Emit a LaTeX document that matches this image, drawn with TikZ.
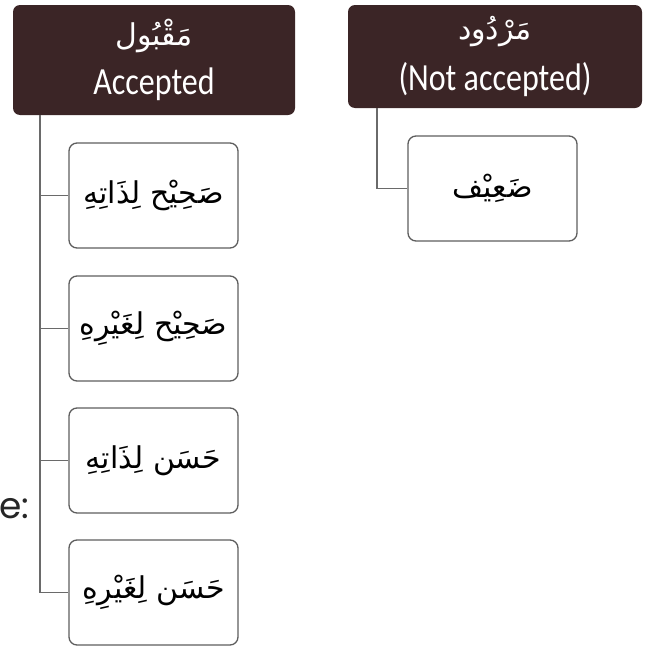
\documentclass[tikz,border=0pt]{standalone}
\usepackage{graphicx}
\usepackage{fontspec}
\setmainfont{Carlito}
\newfontfamily\arabicfont[Script=Arabic]{DejaVu Sans}
\newfontfamily\geofont{Poppins}
\TeXXeTstate=1
\definecolor{hdr}{HTML}{3B2526}
\definecolor{boxline}{HTML}{5E5E5E}
\definecolor{connline}{HTML}{6A6A6A}
\newcommand{\hdrtext}[2]{{\arabicfont\fontsize{30}{32}\selectfont\beginR #1\endR}\\[14pt]{\fontsize{32}{34}\selectfont\scalebox{1}[1.2]{#2}}}
\tikzset{
  hdrbox/.style={draw=none, fill=hdr, rounded corners=7pt, text=white, align=center, inner sep=0pt},
  kindbox/.style={draw=boxline, line width=1.3pt, fill=white, rounded corners=8pt, minimum width=169pt, minimum height=105pt, inner sep=0pt, font=\arabicfont\fontsize{30}{34}\selectfont},
  conn/.style={draw=connline, line width=1.4pt},
}
\begin{document}
\begin{tikzpicture}[x=1pt,y=-1pt]
\useasboundingbox (0,0) rectangle (646,648);
\node[hdrbox, minimum width=282pt, minimum height=110pt] (acc) at (154,60)
  {\hdrtext{مَقْبُول}{Accepted}};
\node[hdrbox, minimum width=294pt, minimum height=103pt] (rej) at (495,56.5)
  {\hdrtext{مَرْدُود}{(Not accepted)}};
\node[kindbox] (daif) at (492.5,188.5) {\beginR ضَعِيْف\endR};
\node[kindbox] (a) at (153.5,195.5) {\beginR صَحِيْح لِذَاتِهِ\endR};
\node[kindbox] (b) at (153.5,328.5) {\beginR صَحِيْح لِغَيْرِهِ\endR};
\node[kindbox] (c) at (153.5,460.5) {\beginR حَسَن لِذَاتِهِ\endR};
\node[kindbox] (d) at (153.5,592.5) {\beginR حَسَن لِغَيْرِهِ\endR};
\node[anchor=base west, inner sep=0pt, text=black!85, font=\geofont\fontsize{36}{40}\selectfont] (e) at (-1,518) {e:};
\coordinate (t1) at (40,0);
\coordinate (t2) at (377,0);
\draw[conn] (acc.south -| t1) |- (d.west);
\draw[conn] (a.west) -- (a.west -| t1);
\draw[conn] (b.west) -- (b.west -| t1);
\draw[conn] (c.west) -- (c.west -| t1);
\draw[conn] (rej.south -| t2) |- (daif.west);
\end{tikzpicture}
\end{document}
